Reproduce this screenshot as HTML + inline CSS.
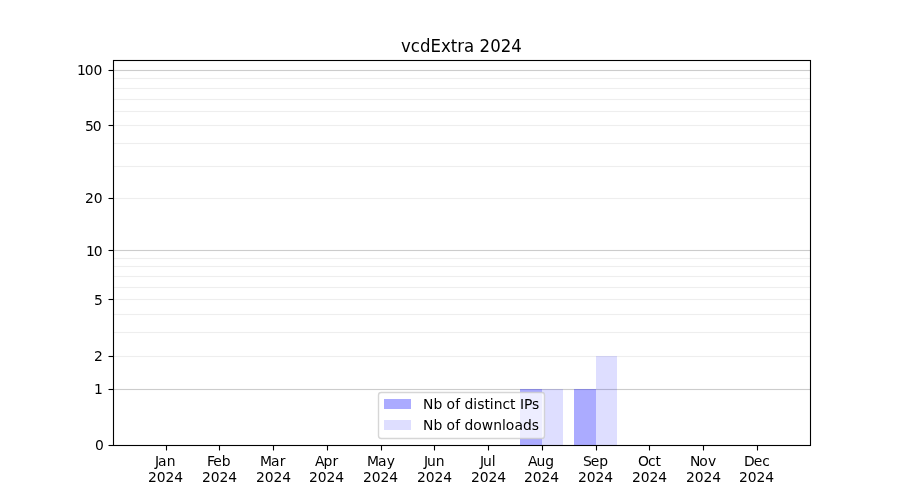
<!DOCTYPE html>
<html lang="en">
<head>
<meta charset="utf-8">
<title>vcdExtra 2024</title>
<style>
html,body{margin:0;padding:0;background:#ffffff;}
body{width:900px;height:500px;overflow:hidden;}
svg{display:block;}
text{font-family:"DejaVu Sans","Liberation Sans",sans-serif;fill:#000000;}
.tick{font-size:13.889px;}
.title{font-size:18px;}
.labels{will-change:transform;}
.ax{stroke:#000000;stroke-width:1.111;fill:none;}
.gmaj{fill:#cccccc;}
.gmin{fill:#eeeeee;}
.ips{fill:#0000ff;fill-opacity:0.33;}
.dls{fill:#0000ff;fill-opacity:0.13;}
</style>
</head>
<body>
<svg width="900" height="500" viewBox="0 0 900 500">
<rect x="0" y="0" width="900" height="500" fill="#ffffff"/>
<!-- horizontal grid lines (log1p scale): minor then major -->
<g class="gmin">
<rect x="113" y="77.9445" width="697.5" height="1.111"/>
<rect x="113" y="87.9445" width="697.5" height="1.111"/>
<rect x="113" y="98.9445" width="697.5" height="1.111"/>
<rect x="113" y="110.9445" width="697.5" height="1.111"/>
<rect x="113" y="124.9445" width="697.5" height="1.111"/>
<rect x="113" y="142.9445" width="697.5" height="1.111"/>
<rect x="113" y="165.9445" width="697.5" height="1.111"/>
<rect x="113" y="197.9445" width="697.5" height="1.111"/>
<rect x="113" y="257.9445" width="697.5" height="1.111"/>
<rect x="113" y="265.9445" width="697.5" height="1.111"/>
<rect x="113" y="275.9445" width="697.5" height="1.111"/>
<rect x="113" y="286.9445" width="697.5" height="1.111"/>
<rect x="113" y="298.9445" width="697.5" height="1.111"/>
<rect x="113" y="313.9445" width="697.5" height="1.111"/>
<rect x="113" y="331.9445" width="697.5" height="1.111"/>
<rect x="113" y="355.9445" width="697.5" height="1.111"/>
</g>
<g class="gmaj">
<rect x="113" y="69.9445" width="697.5" height="1.111"/>
<rect x="113" y="249.9445" width="697.5" height="1.111"/>
<rect x="113" y="388.9445" width="697.5" height="1.111"/>
</g>
<!-- bars: Aug and Sep -->
<g class="ips">
<rect x="520" y="389" width="22" height="56"/>
<rect x="574" y="389" width="22" height="56"/>
</g>
<g class="dls">
<rect x="542" y="389" width="21" height="56"/>
<rect x="596" y="356" width="21" height="89"/>
</g>
<!-- axis ticks -->
<g class="ax">
<line x1="166.5" y1="445.5" x2="166.5" y2="450.5"/>
<line x1="219.5" y1="445.5" x2="219.5" y2="450.5"/>
<line x1="273.5" y1="445.5" x2="273.5" y2="450.5"/>
<line x1="327.5" y1="445.5" x2="327.5" y2="450.5"/>
<line x1="381.5" y1="445.5" x2="381.5" y2="450.5"/>
<line x1="434.5" y1="445.5" x2="434.5" y2="450.5"/>
<line x1="488.5" y1="445.5" x2="488.5" y2="450.5"/>
<line x1="542.5" y1="445.5" x2="542.5" y2="450.5"/>
<line x1="596.5" y1="445.5" x2="596.5" y2="450.5"/>
<line x1="649.5" y1="445.5" x2="649.5" y2="450.5"/>
<line x1="703.5" y1="445.5" x2="703.5" y2="450.5"/>
<line x1="757.5" y1="445.5" x2="757.5" y2="450.5"/>
<line x1="108.5" y1="445.5" x2="113.5" y2="445.5"/>
<line x1="108.5" y1="389.5" x2="113.5" y2="389.5"/>
<line x1="108.5" y1="356.5" x2="113.5" y2="356.5"/>
<line x1="108.5" y1="299.5" x2="113.5" y2="299.5"/>
<line x1="108.5" y1="250.5" x2="113.5" y2="250.5"/>
<line x1="108.5" y1="198.5" x2="113.5" y2="198.5"/>
<line x1="108.5" y1="125.5" x2="113.5" y2="125.5"/>
<line x1="108.5" y1="70.5" x2="113.5" y2="70.5"/>
</g>
<!-- axes frame -->
<rect class="ax" x="113.5" y="60.5" width="697" height="385"/>
<!-- legend box and colour swatches -->
<rect x="378.5" y="392.5" width="166" height="46" rx="2.78" ry="2.78" fill="#ffffff" fill-opacity="0.79" stroke="#cccccc" stroke-opacity="0.8" stroke-width="1.389"/>
<rect class="ips" x="384" y="399" width="27" height="10"/>
<rect class="dls" x="384" y="420" width="27" height="10"/>
<!-- all text (own layer so it is greyscale-antialiased like the original) -->
<g class="labels">
<!-- title -->
<text class="title" transform="translate(401.02,52) scale(0.9213,1)" x="0.00 10.45 20.62 32.02 43.28 54.00 61.06 68.25 79.24 85.21 96.74 108.14 119.67" y="0">vcdExtra 2024</text>
<!-- x tick labels -->
<g class="tick">
<text x="154.99 157.99 166.87" y="466">Jan</text>
<text x="148.03 156.78 165.53 174.28" y="482">2024</text>
<text x="206.89 213.14 221.64" y="466">Feb</text>
<text x="202.01 210.76 219.51 228.26" y="482">2024</text>
<text x="260.07 271.07 279.69" y="466">Mar</text>
<text x="256.00 264.75 273.50 282.25" y="482">2024</text>
<text x="314.89 323.39 332.51" y="466">Apr</text>
<text x="308.99 317.74 326.49 335.24" y="482">2024</text>
<text x="367.04 378.04 386.67" y="466">May</text>
<text x="362.97 371.72 380.47 389.22" y="482">2024</text>
<text x="424.03 427.03 435.78" y="466">Jun</text>
<text x="416.96 425.71 434.46 443.21" y="482">2024</text>
<text x="479.99 482.99 491.74" y="466">Jul</text>
<text x="470.94 479.69 488.44 497.19" y="482">2024</text>
<text x="528.04 536.54 545.29" y="466">Aug</text>
<text x="523.93 532.68 541.43 550.18" y="482">2024</text>
<text x="583.00 590.75 599.25" y="466">Sep</text>
<text x="577.92 586.67 595.42 604.17" y="482">2024</text>
<text x="638.07 647.95 655.57" y="466">Oct</text>
<text x="631.90 640.65 649.40 658.15" y="482">2024</text>
<text x="690.01 699.13 707.88" y="466">Nov</text>
<text x="685.89 694.64 703.39 712.14" y="482">2024</text>
<text x="744.11 753.86 762.36" y="466">Dec</text>
<text x="738.88 747.63 756.38 765.13" y="482">2024</text>
</g>
<!-- y tick labels -->
<g class="tick">
<text x="94.95" y="450">0</text>
<text x="93.95" y="394">1</text>
<text x="93.95" y="361">2</text>
<text x="93.95" y="305">5</text>
<text x="86.12 93.75" y="256">10</text>
<text x="85.12 93.87" y="203">20</text>
<text x="85.12 92.87" y="131">50</text>
<text x="77.05 84.67 93.42" y="75">100</text>
</g>
<!-- legend labels -->
<g class="tick">
<text x="422.99 433.62 442.49 446.62 455.37 460.37 464.49 473.37 477.24 484.62 489.87 493.74 502.49 510.12 515.87 519.99 523.99 532.12" y="409">Nb of distinct IPs</text>
<text x="422.99 433.62 442.49 446.62 455.37 460.37 464.49 473.37 481.87 493.24 501.99 505.87 514.62 522.99 531.87" y="430">Nb of downloads</text>
</g>
</g>
</svg>
</body>
</html>
